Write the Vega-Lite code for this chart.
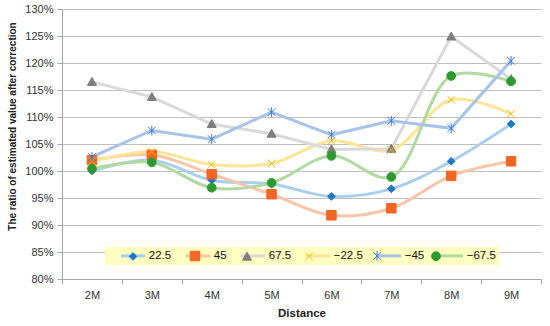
{
  "$schema": "https://vega.github.io/schema/vega-lite/v6.json",
  "width": 479,
  "height": 270,
  "autosize": {"type": "none"},
  "padding": {"left": 62, "top": 9, "right": 9, "bottom": 47},
  "config": {"font": "Liberation Sans", "view": {"stroke": null}},
  "data": {
    "values": [
      {"d": "2M", "s": "22.5", "v": 1.000}, {"d": "3M", "s": "22.5", "v": 1.020}, {"d": "4M", "s": "22.5", "v": 0.983}, {"d": "5M", "s": "22.5", "v": 0.976},
      {"d": "6M", "s": "22.5", "v": 0.953}, {"d": "7M", "s": "22.5", "v": 0.967}, {"d": "8M", "s": "22.5", "v": 1.018}, {"d": "9M", "s": "22.5", "v": 1.087},
      {"d": "2M", "s": "45", "v": 1.020}, {"d": "3M", "s": "45", "v": 1.030}, {"d": "4M", "s": "45", "v": 0.994}, {"d": "5M", "s": "45", "v": 0.957},
      {"d": "6M", "s": "45", "v": 0.918}, {"d": "7M", "s": "45", "v": 0.931}, {"d": "8M", "s": "45", "v": 0.991}, {"d": "9M", "s": "45", "v": 1.018},
      {"d": "2M", "s": "67.5", "v": 1.165}, {"d": "3M", "s": "67.5", "v": 1.137}, {"d": "4M", "s": "67.5", "v": 1.087}, {"d": "5M", "s": "67.5", "v": 1.069},
      {"d": "6M", "s": "67.5", "v": 1.040}, {"d": "7M", "s": "67.5", "v": 1.041}, {"d": "8M", "s": "67.5", "v": 1.249}, {"d": "9M", "s": "67.5", "v": 1.170},
      {"d": "2M", "s": "−22.5", "v": 1.018}, {"d": "3M", "s": "−22.5", "v": 1.036}, {"d": "4M", "s": "−22.5", "v": 1.012}, {"d": "5M", "s": "−22.5", "v": 1.014},
      {"d": "6M", "s": "−22.5", "v": 1.056}, {"d": "7M", "s": "−22.5", "v": 1.039}, {"d": "8M", "s": "−22.5", "v": 1.132}, {"d": "9M", "s": "−22.5", "v": 1.106},
      {"d": "2M", "s": "−45", "v": 1.026}, {"d": "3M", "s": "−45", "v": 1.075}, {"d": "4M", "s": "−45", "v": 1.059}, {"d": "5M", "s": "−45", "v": 1.109},
      {"d": "6M", "s": "−45", "v": 1.067}, {"d": "7M", "s": "−45", "v": 1.093}, {"d": "8M", "s": "−45", "v": 1.079}, {"d": "9M", "s": "−45", "v": 1.204},
      {"d": "2M", "s": "−67.5", "v": 1.004}, {"d": "3M", "s": "−67.5", "v": 1.016}, {"d": "4M", "s": "−67.5", "v": 0.969}, {"d": "5M", "s": "−67.5", "v": 0.978},
      {"d": "6M", "s": "−67.5", "v": 1.028}, {"d": "7M", "s": "−67.5", "v": 0.989}, {"d": "8M", "s": "−67.5", "v": 1.176}, {"d": "9M", "s": "−67.5", "v": 1.166}
    ]
  },
  "encoding": {
    "x": {
      "field": "d", "type": "ordinal",
      "sort": ["2M", "3M", "4M", "5M", "6M", "7M", "8M", "9M"],
      "scale": {"type": "band", "paddingInner": 0, "paddingOuter": 0},
      "axis": {
        "title": "Distance", "titleFontSize": 11.5, "titleFontWeight": "bold", "titleColor": "#222", "titlePadding": 7,
        "labelAngle": 0, "labelFontSize": 11, "labelColor": "#333", "labelPadding": 5,
        "tickBand": "extent", "tickSize": 5, "tickColor": "#A6A6A6", "domainColor": "#A6A6A6", "grid": false
      }
    },
    "y": {
      "field": "v", "type": "quantitative",
      "scale": {"domain": [0.8, 1.3], "nice": false, "zero": false},
      "axis": {
        "title": "The ratio of estimated value after correction", "titleFontSize": 10, "titleFontWeight": "bold", "titleColor": "#222", "titlePadding": 7, "titleY": 117,
        "values": [0.8, 0.85, 0.9, 0.95, 1.0, 1.05, 1.1, 1.15, 1.2, 1.25, 1.3],
        "format": ".0%", "labelFontSize": 11, "labelColor": "#333", "labelPadding": 4,
        "tickSize": 5, "tickColor": "#A6A6A6", "domainColor": "#A6A6A6",
        "grid": true, "gridColor": "#BFBFBF", "gridWidth": 1
      }
    }
  },
  "layer": [
    {
      "transform": [{"filter": {"field": "s", "oneOf": ["22.5", "45", "−22.5", "−67.5"]}}],
      "mark": {"type": "line", "interpolate": "catmull-rom", "strokeWidth": 3},
      "encoding": {
        "color": {
          "field": "s", "type": "nominal",
          "scale": {"domain": ["22.5", "45", "67.5", "−22.5", "−45", "−67.5"], "range": ["#A9CFEE", "#F9C5A8", "#D9D9D9", "#FFE495", "#A8C3EA", "#B0DAA0"]},
          "legend": {
            "orient": "none", "legendX": 43, "legendY": 238, "direction": "horizontal",
            "title": " ", "titleOrient": "left", "titlePadding": 13, "titleFontSize": 11,
            "symbolType": "M-4,0H4", "symbolSize": 36, "symbolStrokeWidth": 3, "symbolOffset": 6.25,
            "labelFontSize": 11.5, "labelOffset": 10, "labelColor": "#111", "columnPadding": 8,
            "labelExpr": "datum.label == '−67.5' ? datum.label + '   ' : datum.label",
            "fillColor": "#FFFFC0", "padding": 3
          }
        }
      }
    },
    {
      "transform": [{"filter": {"field": "s", "oneOf": ["67.5", "−45"]}}],
      "mark": {"type": "line", "strokeWidth": 3},
      "encoding": {
        "color": {"field": "s", "type": "nominal"}
      }
    },
    {
      "mark": {"type": "point", "filled": true, "opacity": 1, "size": 49, "strokeWidth": 1},
      "encoding": {
        "shape": {
          "field": "s", "type": "nominal",
          "scale": {"range": [
            "M-3.714,0M3.714,0M0,-1.1L1.1,0L0,1.1L-1.1,0Z",
            "M-3.714,0M3.714,0M-1.35,-1.35H1.35V1.35H-1.35Z",
            "M-3.714,0M3.714,0M0,-1.3L1.3,1H-1.3Z",
            "M-3.714,0M3.714,0M-1.1,-1.1L1.1,1.1M-1.1,1.1L1.1,-1.1",
            "M-3.714,0M3.714,0M-1.1,-1.1L1.1,1.1M-1.1,1.1L1.1,-1.1M0,-1.4V1.4",
            "M-3.714,0M3.714,0M1.25,0A1.25,1.25,0,1,1,-1.25,0A1.25,1.25,0,1,1,1.25,0Z"
          ]},
          "legend": {
            "orient": "none", "legendX": 43, "legendY": 238, "direction": "horizontal",
            "title": " ", "titleOrient": "left", "titlePadding": 13, "titleFontSize": 11,
            "symbolSize": 49, "symbolStrokeWidth": 1, "symbolOffset": 6.25,
            "labelFontSize": 11.5, "labelOffset": 10, "labelColor": "transparent", "columnPadding": 8,
            "labelExpr": "datum.label == '−67.5' ? datum.label + '   ' : datum.label",
            "padding": 3
          }
        },
        "fill": {
          "field": "s", "type": "nominal",
          "scale": {"range": ["#1E78C8", "#F26522", "#7F7F7F", "transparent", "transparent", "#2E9A2E"]}
        },
        "stroke": {
          "field": "s", "type": "nominal",
          "scale": {"range": ["#1E78C8", "#F26522", "#7F7F7F", "#FFB900", "#3C7BD6", "#2E9A2E"]}
        }
      }
    }
  ]
}
